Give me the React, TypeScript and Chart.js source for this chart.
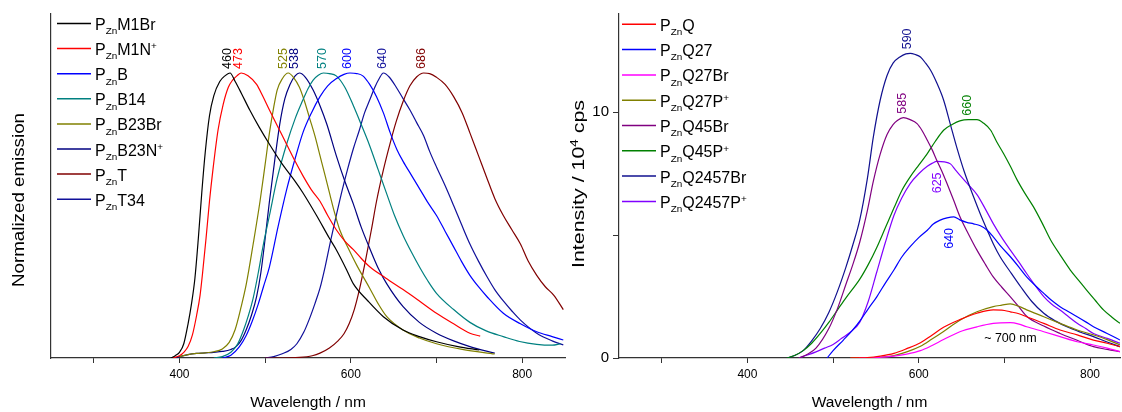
import React, { useEffect, useRef } from "react";
import { Chart, registerables } from "chart.js";

Chart.register(...registerables);

const FONT = "'Liberation Sans', Arial, Helvetica, sans-serif";

type Pt = [number, number];

// ---------------- Left panel: normalized emission ----------------
const PZnM1Br: Pt[] = [[390, 0], [395, 0.008], [400, 0.02], [405, 0.05], [410, 0.12], [414, 0.19], [418, 0.28], [422, 0.42], [426, 0.58], [430, 0.72], [435, 0.85], [440, 0.92], [447, 0.97], [453, 0.99], [459, 1.0], [465, 0.97], [472, 0.93], [482, 0.87], [493, 0.81], [505, 0.75], [520, 0.68], [535, 0.62], [544, 0.58], [560, 0.5], [575, 0.42], [583, 0.38], [595, 0.31], [603, 0.26], [620, 0.2], [638, 0.145], [661, 0.098], [680, 0.075], [700, 0.057], [725, 0.04], [750, 0.028]];
const PZnM1N: Pt[] = [[392, 0], [400, 0.008], [405, 0.02], [410, 0.04], [415, 0.08], [420, 0.15], [424, 0.22], [427, 0.3], [431, 0.42], [435, 0.55], [439, 0.66], [445, 0.8], [451, 0.89], [457, 0.95], [462, 0.975], [467, 0.99], [472, 1.0], [480, 0.99], [490, 0.96], [497, 0.92], [505, 0.87], [515, 0.81], [525, 0.75], [535, 0.69], [544, 0.64], [554, 0.59], [564, 0.55], [573, 0.5], [583, 0.45], [593, 0.41], [603, 0.38], [612, 0.35], [622, 0.32], [641, 0.28], [661, 0.24], [680, 0.2], [700, 0.157], [720, 0.12], [739, 0.087], [751, 0.077]];
const PZnB: Pt[] = [[450, 0], [460, 0.01], [470, 0.04], [478, 0.08], [485, 0.13], [492, 0.19], [498, 0.25], [505, 0.32], [515, 0.46], [525, 0.59], [535, 0.7], [544, 0.79], [554, 0.86], [564, 0.917], [573, 0.955], [583, 0.98], [592, 0.995], [599, 1.0], [607, 0.998], [614, 0.99], [622, 0.96], [630, 0.917], [638, 0.86], [646, 0.79], [654, 0.73], [661, 0.69], [671, 0.64], [681, 0.59], [690, 0.545], [700, 0.5], [710, 0.445], [720, 0.39], [729, 0.34], [739, 0.29], [749, 0.25], [759, 0.215], [778, 0.157], [798, 0.12], [817, 0.092], [835, 0.075], [848, 0.063]];
const PZnB14: Pt[] = [[440, 0], [450, 0.005], [460, 0.02], [468, 0.05], [475, 0.1], [480, 0.145], [486, 0.21], [492, 0.3], [498, 0.4], [505, 0.5], [514, 0.63], [525, 0.75], [535, 0.84], [544, 0.905], [550, 0.945], [556, 0.975], [562, 0.992], [568, 1.0], [575, 0.998], [583, 0.99], [593, 0.95], [603, 0.885], [612, 0.82], [622, 0.745], [632, 0.66], [642, 0.575], [651, 0.5], [661, 0.43], [671, 0.37], [681, 0.315], [690, 0.27], [700, 0.227], [720, 0.17], [739, 0.125], [758, 0.095], [778, 0.075], [797, 0.058], [817, 0.048], [835, 0.045], [845, 0.05]];
const PZnB23Br: Pt[] = [[400, 0.005], [410, 0.012], [420, 0.016], [430, 0.018], [440, 0.022], [450, 0.032], [458, 0.055], [465, 0.1], [472, 0.18], [478, 0.26], [486, 0.4], [494, 0.55], [500, 0.68], [505, 0.79], [510, 0.88], [514, 0.94], [520, 0.98], [527, 1.0], [533, 0.985], [540, 0.95], [546, 0.9], [552, 0.84], [558, 0.78], [564, 0.71], [570, 0.64], [575, 0.58], [581, 0.51], [587, 0.45], [597, 0.385], [607, 0.325], [622, 0.245], [632, 0.19], [642, 0.145], [661, 0.098], [680, 0.07], [700, 0.05], [730, 0.03], [768, 0.014]];
const PZnB23N: Pt[] = [[395, 0], [400, 0.005], [410, 0.012], [420, 0.016], [430, 0.018], [440, 0.02], [450, 0.023], [460, 0.03], [466, 0.04], [472, 0.062], [478, 0.1], [484, 0.15], [490, 0.215], [495, 0.3], [500, 0.42], [505, 0.55], [511, 0.69], [517, 0.82], [523, 0.91], [529, 0.96], [535, 0.99], [540, 1.0], [547, 0.985], [556, 0.94], [564, 0.885], [572, 0.82], [583, 0.71], [593, 0.62], [603, 0.54], [612, 0.46], [622, 0.385], [632, 0.315], [642, 0.26], [661, 0.18], [680, 0.125], [700, 0.087], [720, 0.06], [739, 0.04], [768, 0.017]];
const PZnT: Pt[] = [[500, 0], [520, 0], [540, 0.002], [555, 0.008], [564, 0.017], [575, 0.035], [585, 0.06], [592, 0.085], [598, 0.12], [604, 0.17], [610, 0.24], [617, 0.34], [624, 0.45], [630, 0.55], [638, 0.66], [646, 0.755], [653, 0.83], [661, 0.9], [669, 0.955], [677, 0.987], [685, 1.0], [692, 0.998], [700, 0.985], [710, 0.96], [720, 0.917], [730, 0.86], [739, 0.79], [749, 0.71], [759, 0.63], [768, 0.56], [778, 0.5], [788, 0.45], [798, 0.4], [807, 0.34], [817, 0.29], [827, 0.25], [837, 0.22], [848, 0.17]];
const PZnT34: Pt[] = [[500, 0], [510, 0.005], [520, 0.015], [530, 0.03], [537, 0.05], [545, 0.09], [552, 0.14], [558, 0.19], [564, 0.245], [570, 0.32], [577, 0.42], [583, 0.5], [590, 0.59], [596, 0.66], [603, 0.735], [610, 0.8], [616, 0.86], [622, 0.905], [628, 0.95], [633, 0.98], [638, 1.0], [645, 0.985], [653, 0.95], [661, 0.91], [669, 0.87], [677, 0.825], [685, 0.78], [692, 0.725], [700, 0.67], [710, 0.605], [720, 0.535], [729, 0.47], [739, 0.4], [749, 0.34], [759, 0.285], [768, 0.24], [778, 0.2], [788, 0.165], [798, 0.133], [817, 0.087], [835, 0.06], [848, 0.046]];

const leftSeries = [PZnM1Br, PZnM1N, PZnB, PZnB14, PZnB23Br, PZnB23N, PZnT, PZnT34];
const leftNames = ["P_{Zn}M1Br", "P_{Zn}M1N^{+}", "P_{Zn}B", "P_{Zn}B14", "P_{Zn}B23Br", "P_{Zn}B23N^{+}", "P_{Zn}T", "P_{Zn}T34"];
const leftColors = ["#000000", "#ff0000", "#0000ff", "#008080", "#808000", "#000080", "#800000", "#10109a"];

const leftPeakWl = [460, 473, 525, 538, 570, 600, 640, 686];
const leftPeakVal = [1, 1, 1, 1, 1, 1, 1, 1];
const leftPeakText = ["460", "473", "525", "538", "570", "600", "640", "686"];
const leftPeakColors = ["#000000", "#ff0000", "#808000", "#000080", "#008080", "#0000ff", "#10109a", "#800000"];

// ---------------- Right panel: intensity / 10^4 cps ----------------
const PZnQ: Pt[] = [[520, 0], [540, 0.02], [555, 0.08], [571, 0.19], [586, 0.38], [602, 0.62], [615, 0.92], [629, 1.25], [648, 1.56], [668, 1.82], [687, 1.96], [697, 1.95], [707, 1.88], [717, 1.8], [726, 1.68], [746, 1.41], [765, 1.14], [785, 0.94], [804, 0.73], [820, 0.6], [835, 0.46]];
const PZnQ27: Pt[] = [[493, 0], [500, 0.3], [512, 0.73], [522, 1.1], [532, 1.54], [541, 2.0], [551, 2.49], [561, 3.05], [571, 3.58], [580, 4.1], [590, 4.53], [600, 4.9], [610, 5.2], [617, 5.45], [625, 5.61], [633, 5.7], [641, 5.74], [648, 5.62], [656, 5.52], [664, 5.46], [672, 5.38], [680, 5.2], [687, 4.93], [697, 4.5], [707, 4.12], [717, 3.7], [726, 3.3], [736, 2.95], [746, 2.63], [755, 2.35], [765, 2.09], [775, 1.88], [785, 1.68], [795, 1.47], [804, 1.27], [820, 1.0], [835, 0.73]];
const PZnQ27Br: Pt[] = [[530, 0], [550, 0.02], [571, 0.08], [586, 0.16], [602, 0.3], [615, 0.5], [629, 0.75], [648, 1.07], [668, 1.27], [687, 1.41], [707, 1.44], [717, 1.38], [726, 1.27], [746, 1.07], [765, 0.87], [785, 0.66], [804, 0.53], [820, 0.4], [835, 0.26]];
const PZnQ27P: Pt[] = [[520, 0], [540, 0.01], [555, 0.04], [571, 0.1], [586, 0.25], [602, 0.48], [615, 0.76], [629, 1.08], [648, 1.54], [668, 1.88], [687, 2.09], [697, 2.15], [707, 2.2], [717, 2.1], [726, 1.96], [746, 1.68], [765, 1.41], [785, 1.14], [804, 0.94], [820, 0.75], [835, 0.53]];
const PZnQ45Br: Pt[] = [[460, 0], [470, 0.15], [480, 0.4], [495, 1.2], [505, 2.0], [515, 3.0], [523, 3.8], [531, 4.7], [540, 6.0], [547, 7.2], [555, 8.3], [563, 9.1], [570, 9.5], [575, 9.67], [582, 9.78], [590, 9.7], [598, 9.54], [604, 9.25], [610, 8.86], [616, 8.45], [621, 8.05], [627, 7.6], [633, 7.1], [641, 6.4], [648, 5.76], [658, 5.05], [668, 4.39], [678, 3.8], [687, 3.3], [697, 2.88], [707, 2.49], [717, 2.08], [726, 1.7], [746, 1.3], [765, 1.0], [785, 0.72], [804, 0.46], [820, 0.35], [835, 0.26]];
const PZnQ45P: Pt[] = [[446, 0], [455, 0.1], [465, 0.3], [475, 0.6], [485, 1.0], [495, 1.45], [505, 1.95], [515, 2.45], [531, 3.2], [541, 3.8], [551, 4.5], [561, 5.3], [571, 6.1], [580, 6.8], [590, 7.37], [600, 7.85], [610, 8.32], [619, 8.8], [629, 9.27], [639, 9.5], [648, 9.65], [658, 9.7], [668, 9.7], [676, 9.55], [684, 9.27], [691, 8.8], [699, 8.32], [707, 7.8], [715, 7.24], [724, 6.7], [734, 6.15], [744, 5.5], [754, 4.8], [765, 4.2], [777, 3.58], [787, 3.15], [796, 2.76], [806, 2.35], [816, 1.95], [826, 1.65], [835, 1.41]];
const PZnQ2457Br: Pt[] = [[446, 0], [455, 0.1], [465, 0.3], [475, 0.7], [485, 1.2], [495, 1.85], [505, 2.7], [515, 3.7], [523, 4.6], [531, 5.6], [540, 7.3], [547, 9.0], [555, 10.5], [563, 11.5], [570, 12.0], [578, 12.25], [585, 12.38], [590, 12.4], [596, 12.35], [602, 12.25], [608, 12.0], [614, 11.7], [621, 11.2], [629, 10.5], [637, 9.5], [645, 8.5], [653, 7.6], [664, 6.56], [672, 5.85], [680, 5.2], [687, 4.65], [695, 4.12], [707, 3.5], [719, 2.9], [732, 2.3], [746, 1.82], [760, 1.5], [773, 1.27], [789, 1.05], [804, 0.87], [820, 0.65], [835, 0.46]];
const PZnQ2457P: Pt[] = [[460, 0], [470, 0.12], [480, 0.25], [490, 0.4], [500, 0.55], [510, 0.8], [520, 1.05], [531, 1.45], [541, 2.3], [551, 3.5], [561, 4.7], [571, 5.8], [580, 6.5], [590, 7.1], [600, 7.5], [610, 7.8], [616, 7.93], [621, 8.0], [630, 7.98], [637, 7.9], [643, 7.65], [649, 7.4], [658, 7.05], [668, 6.65], [678, 6.05], [687, 5.47], [697, 4.9], [707, 4.39], [717, 3.9], [726, 3.44], [736, 2.95], [746, 2.5], [755, 2.2], [765, 1.95], [775, 1.68], [785, 1.41], [795, 1.2], [804, 1.0], [820, 0.8], [835, 0.6]];

const rightSeries = [PZnQ, PZnQ27, PZnQ27Br, PZnQ27P, PZnQ45Br, PZnQ45P, PZnQ2457Br, PZnQ2457P];
const rightNames = ["P_{Zn}Q", "P_{Zn}Q27", "P_{Zn}Q27Br", "P_{Zn}Q27P^{+}", "P_{Zn}Q45Br", "P_{Zn}Q45P^{+}", "P_{Zn}Q2457Br", "P_{Zn}Q2457P^{+}"];
const rightColors = ["#ff0000", "#0000ff", "#ff00ff", "#808000", "#800080", "#008000", "#10108f", "#8000ff"];

const rightPeakWl = [590, 585, 660, 625, 640];
const rightPeakVal = [12.4, 9.78, 9.7, 8.0, 5.74];
const rightPeakText = ["590", "585", "660", "625", "640"];
const rightPeakColors = ["#10108f", "#800080", "#008000", "#8000ff", "#0000ff"];
const rightPeakBelow = [false, false, false, true, true];

const noteText = "~ 700 nm";
const noteWl = 707;
const noteVal = 0.8;

const xTickValues = [300, 400, 500, 600, 700, 800];
const xTickLabeled = [400, 600, 800];
const rightYTickValues = [0, 5, 10];
const rightYTickLabeled = [0, 10];

const xTitle = "Wavelength / nm";
const leftYTitle = "Normalized emission";
const rightYTitle = "Intensity / 10^{4} cps";

// ---------------- rich text helpers ----------------
type Seg = { t: string; k: "n" | "sub" | "sup" };
function parseRich(s: string): Seg[] {
  const out: Seg[] = [];
  const re = /_\{([^}]*)\}|\^\{([^}]*)\}|([^_^]+)/g;
  let m: RegExpExecArray | null;
  while ((m = re.exec(s))) {
    if (m[1] !== undefined) out.push({ t: m[1], k: "sub" });
    else if (m[2] !== undefined) out.push({ t: m[2], k: "sup" });
    else out.push({ t: m[3], k: "n" });
  }
  return out;
}
function segFont(k: string, size: number) {
  return `${k === "n" ? size : size * 0.62}px ${FONT}`;
}
function measureRich(ctx: CanvasRenderingContext2D, segs: Seg[], size: number) {
  let w = 0;
  for (const s of segs) {
    ctx.font = segFont(s.k, size);
    w += ctx.measureText(s.t).width;
  }
  return w;
}
function drawRich(ctx: CanvasRenderingContext2D, segs: Seg[], x: number, y: number, size: number, color: string) {
  let cx = x;
  ctx.fillStyle = color;
  ctx.textAlign = "left";
  ctx.textBaseline = "alphabetic";
  for (const s of segs) {
    ctx.font = segFont(s.k, size);
    const dy = s.k === "sub" ? size * 0.27 : s.k === "sup" ? -size * 0.36 : 0;
    ctx.fillText(s.t, cx, y + dy);
    cx += ctx.measureText(s.t).width;
  }
}

type OverlayOpts = {
  names: string[];
  colors: string[];
  legendDx: number;
  legendY0: number;
  legendDy: number;
  peakWl: number[];
  peakVal: number[];
  peakText: string[];
  peakColors: string[];
  peakBelow?: boolean[];
  yTitle: string;
  yTitleX: number;
  yTitleY: number;
  yTitleLen: number;
  note?: { text: string; wl: number; val: number };
};

function makeOverlay(o: OverlayOpts) {
  return {
    id: "overlay",
    afterDraw(chart: any) {
      const ctx: CanvasRenderingContext2D = chart.ctx;
      const area = chart.chartArea;
      const xs = chart.scales.x;
      const ys = chart.scales.y;
      ctx.save();
      // legend
      o.names.forEach((n, i) => {
        const ly = o.legendY0 + i * o.legendDy;
        ctx.strokeStyle = o.colors[i];
        ctx.lineWidth = 1.5;
        ctx.beginPath();
        ctx.moveTo(area.left + o.legendDx, ly);
        ctx.lineTo(area.left + o.legendDx + 34, ly);
        ctx.stroke();
        drawRich(ctx, parseRich(n), area.left + o.legendDx + 38, ly + 6.5, 16, "#000");
      });
      // peak labels
      ctx.font = `12.5px ${FONT}`;
      o.peakWl.forEach((wl, i) => {
        const px = xs.getPixelForValue(wl) - 3;
        const py = ys.getPixelForValue(o.peakVal[i]);
        const below = o.peakBelow ? o.peakBelow[i] : false;
        ctx.save();
        ctx.translate(px, below ? py + 11 : py - 4);
        ctx.rotate(-Math.PI / 2);
        ctx.fillStyle = o.peakColors[i];
        ctx.textAlign = below ? "right" : "left";
        ctx.textBaseline = "middle";
        ctx.fillText(o.peakText[i], 0, 0);
        ctx.restore();
      });
      // note
      if (o.note) {
        ctx.font = `12.5px ${FONT}`;
        ctx.fillStyle = "#000";
        ctx.textAlign = "center";
        ctx.textBaseline = "middle";
        ctx.fillText(o.note.text, xs.getPixelForValue(o.note.wl), ys.getPixelForValue(o.note.val));
      }
      // x title
      ctx.font = `15.5px ${FONT}`;
      ctx.fillStyle = "#000";
      ctx.textAlign = "center";
      ctx.textBaseline = "middle";
      ctx.fillText(xTitle, (area.left + area.right) / 2, 403);
      // y title (rotated)
      const segs = parseRich(o.yTitle);
      const size = 16.5;
      const w = measureRich(ctx, segs, size);
      ctx.save();
      ctx.translate(o.yTitleX, o.yTitleY);
      ctx.rotate(-Math.PI / 2);
      ctx.scale(o.yTitleLen / w, 1);
      drawRich(ctx, segs, -w / 2, size * 0.36, size, "#000");
      ctx.restore();
      ctx.restore();
    },
  };
}

function buildConfig(
  series: Pt[][],
  names: string[],
  colors: string[],
  xMax: number,
  yMax: number,
  yAxisWidth: number,
  padRight: number,
  showYTicks: boolean,
  overlay: any
): any {
  return {
    type: "line",
    data: {
      datasets: series.map((s, i) => ({
        label: names[i],
        data: s.map(([x, y]) => ({ x, y })),
        borderColor: colors[i],
        backgroundColor: colors[i],
        borderWidth: 1.2,
        pointRadius: 0,
        fill: false,
        cubicInterpolationMode: "monotone",
      })),
    },
    options: {
      animation: false,
      responsive: false,
      devicePixelRatio: 1,
      layout: { padding: { top: 14, right: padRight, left: 0, bottom: 0 } },
      plugins: { legend: { display: false }, tooltip: { enabled: false } },
      scales: {
        x: {
          type: "linear",
          min: 250,
          max: xMax,
          afterBuildTicks: (s: any) => {
            s.ticks = xTickValues.map((v) => ({ value: v }));
          },
          afterFit: (s: any) => {
            s.height = 54;
          },
          ticks: {
            autoSkip: false,
            maxRotation: 0,
            padding: 4,
            color: "#000",
            font: { size: 12, family: FONT },
            callback: (v: number) => (xTickLabeled.includes(v) ? String(v) : ""),
          },
          grid: { display: true, drawOnChartArea: false, drawTicks: true, tickLength: 5, color: "#333", lineWidth: 1 },
          border: { display: true, color: "#333", width: 1.2 },
        },
        y: {
          type: "linear",
          min: 0,
          max: yMax,
          afterBuildTicks: (s: any) => {
            s.ticks = showYTicks ? rightYTickValues.map((v) => ({ value: v })) : [];
          },
          afterFit: (s: any) => {
            s.width = yAxisWidth;
          },
          ticks: {
            display: showYTicks,
            padding: 4,
            color: "#000",
            font: { size: 15, family: FONT },
            callback: (v: number) => (rightYTickLabeled.includes(v) ? String(v) : ""),
          },
          grid: { display: showYTicks, drawOnChartArea: false, drawTicks: true, tickLength: 6, color: "#333", lineWidth: 1 },
          border: { display: true, color: "#333", width: 1.2 },
        },
      },
    },
    plugins: [overlay],
  };
}

export default function App() {
  const leftRef = useRef<HTMLCanvasElement>(null);
  const rightRef = useRef<HTMLCanvasElement>(null);

  useEffect(() => {
    Chart.defaults.font.family = FONT;
    const left = new Chart(
      leftRef.current as HTMLCanvasElement,
      buildConfig(
        leftSeries,
        leftNames,
        leftColors,
        850,
        1.207,
        51,
        5,
        false,
        makeOverlay({
          names: leftNames,
          colors: leftColors,
          legendDx: 6,
          legendY0: 23.5,
          legendDy: 25.1,
          peakWl: leftPeakWl,
          peakVal: leftPeakVal,
          peakText: leftPeakText,
          peakColors: leftPeakColors,
          yTitle: leftYTitle,
          yTitleX: 18,
          yTitleY: 200,
          yTitleLen: 174,
        })
      )
    );
    const right = new Chart(
      rightRef.current as HTMLCanvasElement,
      buildConfig(
        rightSeries,
        rightNames,
        rightColors,
        835,
        14,
        49,
        2,
        true,
        makeOverlay({
          names: rightNames,
          colors: rightColors,
          legendDx: 3,
          legendY0: 24.3,
          legendDy: 25.3,
          peakWl: rightPeakWl,
          peakVal: rightPeakVal,
          peakText: rightPeakText,
          peakColors: rightPeakColors,
          peakBelow: rightPeakBelow,
          yTitle: rightYTitle,
          yTitleX: 8,
          yTitleY: 184,
          yTitleLen: 168,
          note: { text: noteText, wl: noteWl, val: noteVal },
        })
      )
    );
    return () => {
      left.destroy();
      right.destroy();
    };
  }, []);

  return (
    <div style={{ position: "fixed", left: 0, top: 0, width: 1122, height: 412, background: "#fff" }}>
      <canvas ref={leftRef} width={570} height={412} style={{ position: "absolute", left: 0, top: 0, width: 570, height: 412 }} />
      <canvas ref={rightRef} width={552} height={412} style={{ position: "absolute", left: 570, top: 0, width: 552, height: 412 }} />
    </div>
  );
}
